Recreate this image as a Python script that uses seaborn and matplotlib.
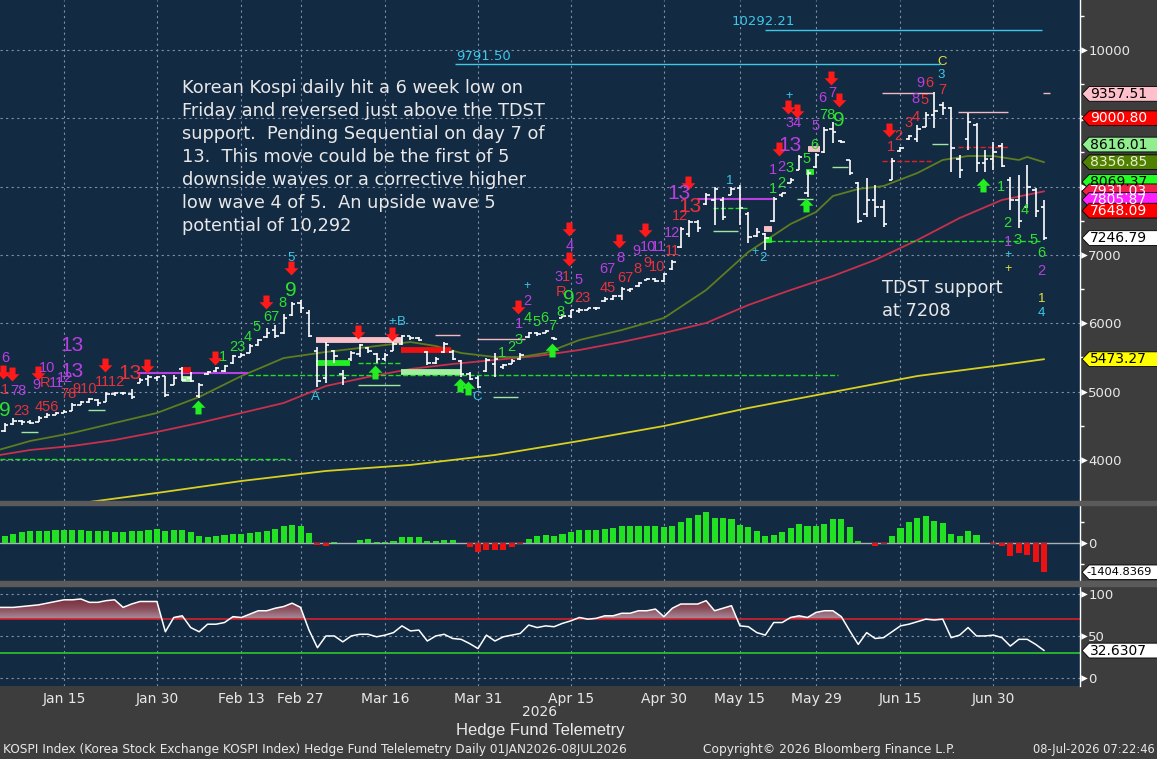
import matplotlib
matplotlib.use("Agg")
import matplotlib.pyplot as plt
import matplotlib.transforms as mtransforms
from matplotlib.colors import LinearSegmentedColormap
from matplotlib.patches import Polygon, Rectangle
from matplotlib.path import Path
import seaborn as sns
import numpy as np
import pandas as pd

sns.set_theme(style="dark")
plt.rcParams["font.family"] = ["Liberation Sans", "DejaVu Sans"]

BG = "#3d3d3d"
PANEL = "#132a43"
GRID = "#7f8ea6"
TXT = "#e8e8e8"
RED = "#e8323c"
GREEN = "#30e030"
MAG = "#b840e0"
CYAN = "#3cc8e8"
YEL = "#e8e040"

# KRX trading days, 2026
holidays = ["2026-02-16", "2026-02-17", "2026-02-18", "2026-03-02",
            "2026-05-01", "2026-05-05", "2026-05-25", "2026-06-03"]
days = pd.bdate_range("2026-01-02", "2026-07-08")
days = days[~days.isin(pd.to_datetime(holidays))]
x = np.arange(len(days))

# daily OHLC
opens = [4330, 4440, 4420, 4520, 4570, 4550, 4560, 4620, 4660, 4690, 4720, 4810, 4850, 4880, 4850, 4970, 4980, 4970, 5130, 5180, 5200,
         5220, 5100, 5330, 5200, 4930, 5250, 5300, 5300, 5420, 5510, 5570, 5680, 5800, 5900, 5850, 6120, 6300,
         6150, 5600, 5200, 5600, 5250, 5480, 5550, 5640, 5550, 5480, 5600, 5700, 5810, 5780, 5580, 5420, 5580, 5580, 5440, 5250, 5200,
         5300, 5400, 5360, 5410, 5470, 5800, 5850, 5860, 5790, 6080, 6100, 6180, 6200, 6220, 6320, 6360, 6400, 6480, 6540, 6640, 6650, 6620,
         6800, 7110, 7300, 7480, 7750, 7800, 7800, 7880, 7980, 7600, 7280, 7300, 7500, 7870, 8060, 8250, 7900, 8280,
         8500, 8850, 8670, 8390, 8050, 7600, 7800, 7700, 8100, 8520, 8690, 8700, 8880, 9050, 9200, 9150, 8400, 8700, 8900, 8350, 8400,
         8600, 8100, 7800, 7700, 7950, 7700]
highs = [4460, 4480, 4540, 4610, 4590, 4580, 4640, 4690, 4700, 4730, 4830, 4860, 4900, 4890, 5000, 4990, 5000, 5030, 5200, 5240, 5230,
         5220, 5240, 5360, 5290, 5130, 5300, 5360, 5390, 5540, 5560, 5690, 5770, 5930, 5980, 6130, 6310, 6340,
         6190, 5650, 5720, 5610, 5320, 5600, 5700, 5650, 5560, 5560, 5720, 5830, 5820, 5800, 5600, 5500, 5720, 5610, 5460, 5290, 5220,
         5490, 5560, 5400, 5470, 5560, 5870, 5870, 5900, 5800, 6140, 6200, 6220, 6230, 6240, 6380, 6420, 6530, 6520, 6600, 6660, 6660, 6730,
         6930, 7410, 7510, 7510, 7900, 7990, 7850, 7990, 8020, 7630, 7390, 7320, 7850, 7910, 8130, 8460, 8240, 8490,
         8870, 8950, 8680, 8390, 8070, 8130, 8020, 7800, 8420, 8580, 8760, 8900, 9090, 9380, 9240, 9170, 8460, 9080, 8930, 8540, 8650,
         8640, 8140, 8170, 8320, 7980, 7800]
lows = [4320, 4420, 4410, 4510, 4510, 4520, 4560, 4610, 4650, 4680, 4710, 4800, 4830, 4790, 4840, 4940, 4950, 4890, 5120, 5080, 5160,
        4920, 5090, 5150, 5140, 4910, 5240, 5290, 5280, 5410, 5500, 5560, 5670, 5780, 5780, 5840, 6100, 6150,
        5800, 5060, 5130, 5420, 5100, 5450, 5500, 5560, 5420, 5450, 5600, 5680, 5750, 5740, 5390, 5400, 5560, 5460, 5210, 5170, 5050,
        5280, 5210, 5330, 5400, 5460, 5780, 5820, 5850, 5750, 6070, 6080, 6150, 6190, 6200, 6310, 6340, 6340, 6460, 6530, 6630, 6600, 6600,
        6780, 7100, 7260, 7330, 7730, 7440, 7510, 7870, 7440, 7180, 7260, 7070, 7480, 7850, 8050, 8240, 7850, 8270,
        8490, 8640, 8640, 8170, 7470, 7560, 7560, 7410, 8100, 8510, 8680, 8650, 8870, 8860, 9050, 8210, 8120, 8540, 8210, 8210, 8240,
        8290, 7660, 7390, 7690, 7560, 7220]
closes = [4440, 4470, 4510, 4570, 4555, 4545, 4610, 4655, 4685, 4700, 4800, 4850, 4890, 4830, 4960, 4980, 4975, 4920, 5170, 5215, 5210,
          4950, 5200, 5170, 5150, 5100, 5290, 5340, 5370, 5520, 5530, 5660, 5750, 5860, 5820, 6080, 6280, 6230,
          5820, 5150, 5680, 5520, 5200, 5560, 5680, 5600, 5480, 5540, 5700, 5820, 5790, 5760, 5420, 5480, 5700, 5480, 5250, 5190, 5070,
          5460, 5480, 5390, 5450, 5540, 5850, 5840, 5880, 5770, 6110, 6190, 6200, 6220, 6230, 6360, 6400, 6500, 6500, 6590, 6650, 6620, 6720,
          6900, 7380, 7480, 7400, 7880, 7960, 7560, 7970, 7690, 7260, 7340, 7250, 7820, 7900, 8100, 8430, 8200, 8470,
          8830, 8800, 8650, 8200, 7500, 7800, 7700, 7450, 8380, 8570, 8740, 8850, 9050, 9100, 9150, 8560, 8250, 8950, 8350, 8400, 8500,
          8300, 7800, 7500, 8000, 7650, 7246.79]

# moving averages (sampled)
ma20_idx = [0, 5, 10, 15, 20, 25, 30, 35, 40, 45, 50, 53, 56, 60, 63, 66, 70, 75, 80, 85, 90, 95, 98, 100, 103, 106, 110, 113, 116,
            119, 122, 123, 125]
ma20 = [4100, 4276, 4393, 4540, 4686, 4920, 5227, 5490, 5579, 5652, 5725, 5666, 5564, 5505, 5505, 5564, 5754, 5900, 6076, 6486,
        7043, 7453, 7628, 7862, 7965, 8009, 8199, 8390, 8448, 8448, 8390, 8434, 8356.85]
ma50_idx = list(range(0, 126, 5))
ma50 = [4042, 4144, 4203, 4290, 4408, 4540, 4686, 4832, 5081, 5213, 5330, 5403, 5462, 5520, 5608, 5725, 5857, 6003, 6267, 6486,
        6691, 6926, 7218, 7540, 7804, 7931.03]
ma200_idx = [12, 20, 30, 40, 50, 60, 70, 80, 90, 100, 110, 120, 125]
ma200 = [3383, 3515, 3690, 3837, 3925, 4071, 4276, 4495, 4759, 4993, 5227, 5388, 5473.27]

# lower panels
hist = [300, 260, 320, 430, 530, 560, 590, 590, 610, 640, 640, 610, 560, 560, 560, 530, 530, 560, 560, 640, 690,
        560, 640, 640, 530, 320, 270, 320, 370, 430, 430, 480, 530, 590, 690, 800, 880, 800,
        480, -80, -130, 60, 0, 10, 160, 210, 60, 60, 110, 290, 290, 290, 80, 80, 160, 160, 0, -210, -450,
        -320, -350, -320, -210, -50, 210, 320, 400, 320, 430, 530, 610, 610, 640, 670, 720, 800, 800, 830, 830, 830, 770,
        800, 990, 1200, 1360, 1490, 1200, 1200, 1170, 880, 770, 590, 320, 400, 530, 720, 930, 830, 800,
        930, 1170, 1170, 750, 110, 0, -160, -50, 320, 720, 990, 1200, 1310, 1070, 960, 450, 350, 590, 400, 0, -30,
        -160, -640, -480, -560, -930, -1404.8369]
rsi = [83, 84, 84, 84, 85, 86, 87, 89, 91, 93, 93, 94, 90, 90, 92, 93, 84, 88, 91, 91, 91,
       55, 72, 74, 60, 55, 64, 64, 66, 73, 72, 76, 80, 80, 83, 85, 89, 84,
       57, 36, 50, 50, 43, 50, 52, 52, 49, 51, 54, 62, 56, 57, 44, 50, 52, 47, 46, 41, 35,
       51, 44, 49, 51, 53, 63, 60, 62, 61, 65, 68, 72, 70, 71, 74, 74, 77, 77, 80, 80, 82, 73,
       83, 88, 88, 88, 92, 80, 83, 86, 62, 61, 54, 51, 66, 66, 72, 74, 72, 78,
       80, 80, 73, 56, 40, 54, 47, 48, 55, 62, 64, 67, 70, 69, 70, 48, 51, 60, 50, 50, 51,
       48, 38, 46, 46, 40, 32.6307]

# TD sequential style annotations: (day index, price, text, font size)
red_counts = [(2.0, 5022, "1", 10.5), (4.0, 4715, "23", 10.5), (6.8, 5125, "R", 10.5), (7.0, 4774, "456", 10.5),
              (9.5, 4964, "78", 10.5), (11.5, 5037, "910", 10.5), (14.4, 5140, "1112", 10.5), (16.8, 5271, "13", 15),
              (67.8, 6457, "R", 10.5), (70.4, 6369, "23", 10.5), (68.4, 6677, "1", 10.5), (73.4, 6516, "45", 10.5),
              (75.5, 6662, "67", 10.5), (76.9, 6794, "8", 10.5), (78.0, 6882, "9", 10.5), (79.2, 6823, "10", 10.5),
              (81.0, 7057, "11", 10.5), (81.9, 7570, "12", 10.5), (83.1, 7702, "13", 15), (106.9, 8580, "1", 10.5),
              (107.8, 8741, "2", 10.5), (108.9, 8931, "3", 10.5), (109.8, 9019, "4", 10.5), (110.9, 9268, "5", 10.5),
              (111.4, 9517, "6", 10.5), (112.9, 9414, "7", 10.5)]
mag_counts = [(2.0, 5491, "6", 10.5), (3.6, 5008, "78", 10.5), (7.0, 5345, "10", 10.5), (5.7, 5095, "9", 10.5),
              (8.1, 5125, "11", 10.5), (9.1, 5198, "12", 10.5), (9.95, 5681, "13", 15), (9.95, 5286, "13", 15),
              (62.8, 5989, "1", 10.5), (63.8, 6325, "2", 10.5), (67.5, 6677, "3", 10.5), (69.9, 6633, "5", 10.5),
              (68.8, 7131, "4", 10.5), (73.3, 6794, "67", 10.5), (74.8, 6955, "8", 10.5), (76.8, 7057, "9", 10.5),
              (78.1, 7116, "10", 10.5), (79.3, 7116, "11", 10.5), (81.0, 7321, "12", 10.5), (81.8, 7906, "13", 15),
              (92.9, 8243, "1", 10.5), (93.9, 8287, "2", 10.5), (95.3, 8931, "34", 10.5), (94.9, 8595, "13", 15),
              (97.9, 8887, "5", 10.5), (98.8, 9297, "6", 10.5), (99.9, 9370, "7", 10.5), (109.8, 9283, "8", 10.5),
              (110.4, 9517, "9", 10.5), (120.7, 7189, "1", 10.5), (124.7, 6765, "2", 10.5)]
green_counts = [(2.0, 4715, "9", 15), (27.8, 5506, "1", 10.5), (29.5, 5652, "23", 10.5), (30.8, 5798, "4", 10.5),
                (31.8, 5945, "5", 10.5), (33.5, 6091, "67", 10.5), (34.8, 6296, "8", 10.5), (35.9, 6486, "9", 15),
                (60.8, 5564, "1", 10.5), (61.9, 5652, "2", 10.5), (62.8, 5754, "3", 10.5), (63.9, 6076, "4", 10.5),
                (64.9, 6018, "5", 10.5), (65.8, 6076, "6", 10.5), (66.8, 5959, "7", 10.5), (67.8, 6164, "8", 10.5),
                (68.8, 6369, "9", 15), (92.9, 7965, "1", 10.5), (93.9, 8053, "2", 10.5), (94.9, 8272, "3", 10.5),
                (97.8, 8609, "6", 10.5), (96.9, 8404, "5", 10.5), (99.3, 9048, "78", 10.5), (100.7, 8961, "9", 15),
                (119.9, 7994, "1", 10.5), (120.7, 7467, "2", 10.5), (121.8, 7218, "3", 10.5), (122.7, 7658, "4", 10.5),
                (123.8, 7218, "5", 10.5), (124.7, 7028, "6", 10.5)]
cyan_counts = [(35.9, 6955, "5", 9.5), (38.8, 4920, "A", 9.5), (47.8, 6018, "+", 9.5), (48.9, 6018, "B", 9.5),
               (57.9, 4920, "C", 9.5), (63.8, 6545, "+", 9), (87.8, 8082, "1", 9.5), (90.8, 7043, "+", 9),
               (91.7, 6955, "2", 9.5), (94.8, 9327, "+", 9), (112.8, 9634, "3", 9.5), (120.7, 6999, "+", 9),
               (124.7, 6150, "4", 9.5)]
yellow_counts = [(112.9, 9824, "C", 9.5), (120.7, 6794, "+", 9), (124.7, 6355, "1", 9.5)]

sell_arrows_idx = [1.8, 2.85, 5.9, 13.9, 18.8, 26.9, 32.9, 35.9, 43.8, 47.8, 62.7, 68.8, 68.8, 74.7, 77.8, 82.9,
                   93.6, 94.7, 95.8, 99.8, 100.7, 106.6]
sell_arrows_px = [5286, 5257, 5271, 5388, 5374, 5491, 6311, 6808, 5871, 5842, 6237, 7379, 6940, 7204, 7365, 8053,
                  8551, 9166, 9107, 9590, 9268, 8829]
buy_arrows_idx = [24.9, 45.8, 55.9, 56.8, 66.8, 96.8, 117.8]
buy_arrows_px = [4774, 5286, 5096, 5052, 5608, 7731, 8024]

# level lines: (start idx, end idx, price, colour, style, width)
levels = [(92.0, 124.7, 10292.21, CYAN, "-", 1.0), (55.3, 112.7, 9791.50, CYAN, "-", 1.0),
          (92.6, 124.5, 7208, "#22dd22", "--", 1.0), (30.8, 100.6, 5242, "#22dd22", "--", 1.0),
          (1.4, 35.8, 4012, "#22dd22", "--", 1.0), (43.8, 48.8, 5418, "#22dd22", "--", 1.0),
          (85.8, 89.8, 7687, "#22dd22", "--", 1.0),
          (17.6, 30.8, 5271, MAG, "-", 1.5), (83.9, 92.9, 7819, MAG, "-", 1.5),
          (3.9, 5.9, 4408, "#a0e8a0", "-", 1.0), (11.8, 13.9, 4730, "#a0e8a0", "-", 1.0),
          (43.8, 48.8, 5096, "#a0e8a0", "-", 1.0), (59.8, 62.7, 4920, "#a0e8a0", "-", 1.0),
          (85.8, 88.8, 7350, "#a0e8a0", "-", 1.0), (95.8, 97.6, 7819, "#a0e8a0", "-", 1.0),
          (99.9, 101.8, 8287, "#a0e8a0", "-", 1.0), (111.7, 113.6, 8624, "#a0e8a0", "-", 1.0),
          (52.9, 55.9, 5828, "#f4b8c0", "-", 1.0), (57.9, 63.6, 5769, "#f4b8c0", "-", 1.0),
          (105.8, 111.8, 9371, "#f4b8c0", "-", 1.0), (114.8, 120.7, 9092, "#f4b8c0", "-", 1.0),
          (124.9, 125.7, 9371, "#f4b8c0", "-", 1.0),
          (105.8, 111.8, 8375, "#e02020", "--", 1.0), (114.8, 120.7, 8580, "#e02020", "--", 1.0)]
blocks = [(38.8, 49.0, 5754, "#f8c0c8"), (38.8, 42.9, 5418, "#22ee22"), (48.9, 54.8, 5608, "#ee1111"),
          (48.9, 56.0, 5286, "#a0f0a0"), (23.0, 24.0, 5315, "#ee1111"), (23.0, 24.0, 5183, "#a0f0a0"),
          (91.8, 92.8, 7379, "#f8c0c8"), (91.8, 92.8, 7218, "#22ee22"), (97.0, 98.5, 8551, "#f8c0c8"),
          (96.8, 97.8, 8214, "#22ee22")]

# right-hand value tags
tag_values = [9357.51, 9000.80, 8616.01, 8356.85, 8069.37, 7931.03, 7805.87, 7648.09, 7246.79, 5473.27]
tag_face = ["#ffc0cb", "#ff0000", "#90ee90", "#4f8000", "#22ff22", "#f0204a", "#ff20ff", "#ff0000", "#ffffff", "#ffff00"]
tag_text = ["black", "white", "black", "#e8f0d0", "black", "white", "white", "white", "black", "black"]

major_dates = ["2026-01-15", "2026-01-30", "2026-02-13", "2026-02-27", "2026-03-16", "2026-03-31", "2026-04-15",
               "2026-04-30", "2026-05-15", "2026-05-29", "2026-06-15", "2026-06-30"]
minor_dates = ["2026-01-07", "2026-01-22", "2026-02-06", "2026-03-09", "2026-03-23", "2026-04-08", "2026-04-22",
               "2026-05-08", "2026-05-22", "2026-06-08", "2026-06-22", "2026-07-08"]
major_pos = days.get_indexer(pd.to_datetime(major_dates))
minor_pos = days.get_indexer(pd.to_datetime(minor_dates))
major_lab = [pd.Timestamp(d).strftime("%b %d").replace(" 0", " ") for d in major_dates]

fig = plt.figure(figsize=(11.57, 7.59), dpi=100, facecolor=BG)
ax = fig.add_axes([0, 0.3399, 0.9334, 0.6601])
axm = fig.add_axes([0, 0.2345, 0.9334, 0.1001], sharex=ax)
axr = fig.add_axes([0, 0.0962, 0.9334, 0.1318], sharex=ax)

for a in (ax, axm, axr):
    a.set_facecolor(PANEL)
    for s in ("left", "top", "bottom"):
        a.spines[s].set_visible(False)
    a.spines["right"].set_color("white")
    a.spines["right"].set_linewidth(1.0)
    a.yaxis.tick_right()
    a.tick_params(axis="y", colors="white", labelcolor=TXT, labelsize=9.5, length=0, width=1, pad=6)
    a.tick_params(axis="y", which="minor", colors="white", length=3, width=1)
    a.set_xticks(major_pos)
    a.set_xticks(minor_pos, minor=True)
    a.grid(axis="x", which="major", color=GRID, ls=(0, (2, 3)), lw=0.8)
    a.set_axisbelow(True)


def tick_arrows(a, values):
    # Bloomberg-style triangular major ticks on the value axis
    tr = mtransforms.blended_transform_factory(a.transAxes, a.transData)
    a.scatter([1.0035] * len(values), values, marker=">", s=22, color="white", lw=0, transform=tr,
              clip_on=False, zorder=5)


ax.set_xlim(1.43, 129.24)

# ---- price panel
ax.set_ylim(3397, 10732)
ax.set_yticks(range(4000, 10001, 1000))
ax.set_yticks(range(4500, 10501, 1000), minor=True)
ax.set_yticklabels([str(v) for v in range(4000, 10001, 1000)], family="DejaVu Sans")
ax.grid(axis="y", which="major", color=GRID, ls=(0, (2, 3)), lw=0.8)
ax.tick_params(axis="x", which="both", bottom=False, labelbottom=False)
tick_arrows(ax, list(range(4000, 10001, 1000)))

sns.lineplot(x=ma200_idx, y=ma200, ax=ax, color="#d8d020", lw=1.3, zorder=2)
sns.lineplot(x=ma50_idx, y=ma50, ax=ax, color="#c8304c", lw=1.3, zorder=2)
sns.lineplot(x=ma20_idx, y=ma20, ax=ax, color="#5d7d1f", lw=1.3, zorder=2)

for i0, i1, p, c, ls, lw in levels:
    ax.hlines(p, i0, i1, colors=c, linestyles=ls, lw=lw, zorder=2.5)
for i0, i1, p, c in blocks:
    ax.hlines(p, i0, i1, colors=c, lw=4.2, zorder=2.6)

xa = np.array(x, dtype=float)
ax.vlines(xa, lows, highs, color="white", lw=1.2, zorder=3)
ax.hlines(opens, xa - 0.4, xa, color="white", lw=1.2, zorder=3)
ax.hlines(closes, xa, xa + 0.4, color="white", lw=1.2, zorder=3)

arrow = Path([(-0.22, 0.5), (0.22, 0.5), (0.22, 0.02), (0.5, 0.02), (0.0, -0.5), (-0.5, 0.02), (-0.22, 0.02),
              (-0.22, 0.5)], [Path.MOVETO] + [Path.LINETO] * 6 + [Path.CLOSEPOLY])
up_arrow = Path(arrow.vertices * np.array([1, -1]), arrow.codes)
ax.scatter(sell_arrows_idx, sell_arrows_px, marker=arrow, s=100, color="#ff1a1a", lw=0, zorder=4)
ax.scatter(buy_arrows_idx, buy_arrows_px, marker=up_arrow, s=100, color="#22ee22", lw=0, zorder=4)

for group, col in ((red_counts, RED), (mag_counts, MAG), (green_counts, GREEN), (cyan_counts, CYAN),
                   (yellow_counts, YEL)):
    for i, p, t, fs in group:
        ax.text(i, p, t, color=col, fontsize=fs, ha="center", va="center", zorder=4)

ax.text(91.8, 10410, "10292.21", color=CYAN, fontsize=9.5, ha="center", va="center", family="DejaVu Sans")
ax.text(58.7, 9898, "9791.50", color=CYAN, fontsize=9.5, ha="center", va="center", family="DejaVu Sans")

ax.text(0.1685, 0.842, "Korean Kospi daily hit a 6 week low on\nFriday and reversed just above the TDST\n"
        "support.  Pending Sequential on day 7 of\n13.  This move could be the first of 5\n"
        "downside waves or a corrective higher\nlow wave 4 of 5.  An upside wave 5\npotential of 10,292",
        transform=ax.transAxes, color=TXT, fontsize=12.8, ha="left", va="top", linespacing=1.36,
        family="DejaVu Sans")
ax.text(0.8167, 0.444, "TDST support\nat 7208", transform=ax.transAxes, color=TXT, fontsize=12.8,
        ha="left", va="top", linespacing=1.36, family="DejaVu Sans")


def add_tag(a, value, label, fc, tc, half, fs=10, tx=1.0095):
    tr = mtransforms.blended_transform_factory(a.transAxes, a.transData)
    verts = [(1.002, value), (1.0085, value + half), (1.08, value + half), (1.08, value - half), (1.0085, value - half)]
    a.add_patch(Polygon(verts, closed=True, transform=tr, fc=fc, ec="black", lw=0.6, clip_on=False, zorder=6))
    a.text(tx, value, label, transform=tr, color=tc, fontsize=fs, ha="left", va="center",
           family="DejaVu Sans", clip_on=False, zorder=7)


for v, fc, tc in zip(tag_values, tag_face, tag_text):
    add_tag(ax, v, f"{v:.2f}", fc, tc, 108)

# ---- oscillator histogram
axm.set_ylim(-1824, 1824)
axm.set_yticks([0])
axm.set_yticklabels(["0"], family="DejaVu Sans")
axm.set_yticks([-1000, 1000], minor=True)
axm.tick_params(axis="x", which="both", bottom=False, labelbottom=False)
tick_arrows(axm, [0])
hcol = ["#22e022" if v >= 0 else "#ee1111" for v in hist]
axm.bar(x, hist, width=0.72, color=hcol, lw=0, zorder=2)
axm.axhline(0, color="#a8b0b8", lw=1.0, zorder=1.5)
add_tag(axm, hist[-1], f"{hist[-1]:.4f}", "#ffffff", "black", 350, fs=8.2, tx=1.0062)

# ---- RSI
axr.set_ylim(-9.5, 109.5)
axr.set_yticks([0, 50, 100])
axr.set_yticklabels(["0", "50", "100"], family="DejaVu Sans")
axr.grid(axis="y", which="major", color=GRID, ls=(0, (2, 3)), lw=0.8)
tick_arrows(axr, [0, 50, 100])
rsi_arr = np.array(rsi)
fill = axr.fill_between(xa, 70, rsi_arr, where=rsi_arr >= 70, interpolate=True, color="none", lw=0)
grad_cmap = LinearSegmentedColormap.from_list("rsi", ["#a68d9c", "#8a4a58", "#74293a"])
img = axr.imshow(np.linspace(0, 1, 64).reshape(-1, 1), extent=[-1, 130, 70, 96], origin="lower",
                 aspect="auto", cmap=grad_cmap, zorder=1.8)
img.set_clip_path(Path.make_compound_path(*fill.get_paths()), transform=axr.transData)
axr.set_xlim(1.43, 129.24)
axr.set_ylim(-9.5, 109.5)
axr.axhline(70, color="#d8202a", lw=1.2, zorder=2)
axr.axhline(30, color="#2ec82e", lw=1.2, zorder=2)
sns.lineplot(x=x, y=rsi, ax=axr, color="white", lw=1.1, zorder=3)
add_tag(axr, rsi[-1], f"{rsi[-1]:.4f}", "#ffffff", "black", 8.8)

axr.set_xticklabels(major_lab, family="DejaVu Sans")
axr.tick_params(axis="x", which="major", colors="white", labelcolor=TXT, labelsize=10, length=3.5, width=1,
                direction="out", pad=0.5)
axr.tick_params(axis="x", which="minor", colors="white", length=3.5, width=1, direction="out")

for a in (ax, axm, axr):
    a.set_xlabel("")
    a.set_ylabel("")

# panel separators
fig.patches.append(Rectangle((0, 1 - 505 / 759), 1, 4 / 759, transform=fig.transFigure, color="#5a5a5a", zorder=0))
fig.patches.append(Rectangle((0, 1 - 586 / 759), 1, 5 / 759, transform=fig.transFigure, color="#5a5a5a", zorder=0))

fig.text(540 / 1157, 1 - 712 / 759, "2026", color=TXT, fontsize=10, ha="center", va="center", family="DejaVu Sans")
fig.text(540 / 1157, 1 - 731 / 759, "Hedge Fund Telemetry", color=TXT, fontsize=12, ha="center", va="center")
fig.text(3 / 1157, 1 - 750 / 759,
         "KOSPI Index (Korea Stock Exchange KOSPI Index) Hedge Fund Telelemetry Daily 01JAN2026-08JUL2026",
         color=TXT, fontsize=8.7, ha="left", va="center", family="DejaVu Sans")
fig.text(703 / 1157, 1 - 750 / 759, "Copyright\u00a9 2026 Bloomberg Finance L.P.", color=TXT, fontsize=8.8,
         ha="left", va="center", family="DejaVu Sans")
fig.text(1155 / 1157, 1 - 750 / 759, "08-Jul-2026 07:22:46", color=TXT, fontsize=8.3, ha="right", va="center",
         family="DejaVu Sans")

fig.savefig("out.png", dpi=100, facecolor=BG)
